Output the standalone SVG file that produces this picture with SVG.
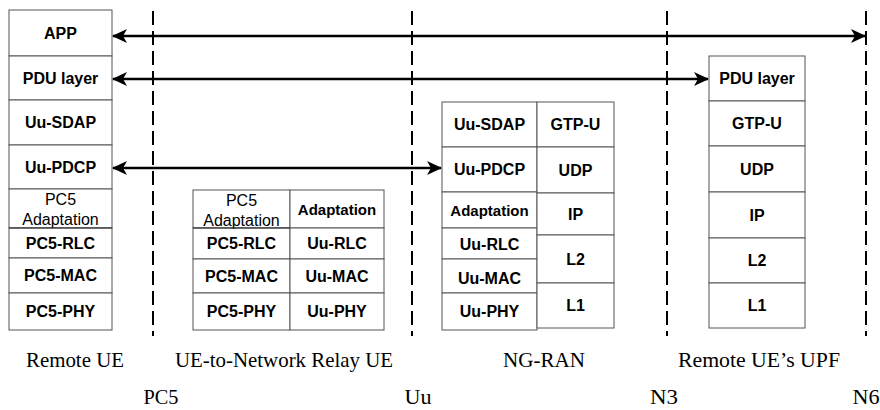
<svg xmlns="http://www.w3.org/2000/svg" width="880" height="410" viewBox="0 0 880 410">
<style>
.box{fill:#fff;stroke:#555;stroke-width:1}
.t{font-family:"Liberation Sans",Arial,sans-serif;font-size:16px;font-weight:bold;text-anchor:middle;fill:#000}
.r{font-family:"Liberation Sans",Arial,sans-serif;font-size:16px;text-anchor:middle;fill:#000}
.a{font-size:15px}
.lbl{font-family:"Liberation Serif","Times New Roman",serif;font-size:22px;text-anchor:middle;fill:#000}
.dash{stroke:#000;stroke-width:2;stroke-dasharray:14 6;fill:none}
.arr{stroke:#000;stroke-width:2.5;fill:none;marker-start:url(#ah);marker-end:url(#ah)}
</style>
<defs>
<marker id="ah" viewBox="0 0 15 14" refX="14" refY="7" markerWidth="15" markerHeight="14" markerUnits="userSpaceOnUse" orient="auto-start-reverse">
<path d="M0,0 L15,7 L0,14 L4,7 z" fill="#000"/>
</marker>
</defs>

<g id="dividers">
<line class="dash" x1="153" y1="11" x2="153" y2="336"/>
<line class="dash" x1="412" y1="11" x2="412" y2="336"/>
<line class="dash" x1="667" y1="11" x2="667" y2="336"/>
<line class="dash" x1="866" y1="11" x2="866" y2="336"/>
</g>

<g id="remote-ue">
<rect class="box" x="9" y="10" width="103" height="46"/>
<rect class="box" x="9" y="56" width="103" height="44"/>
<rect class="box" x="9" y="100" width="103" height="45"/>
<rect class="box" x="9" y="145" width="103" height="44"/>
<rect class="box" x="9" y="189" width="103" height="39"/>
<rect class="box" x="9" y="228" width="103" height="30"/>
<rect class="box" x="9" y="258" width="103" height="35"/>
<rect class="box" x="9" y="293" width="103" height="37"/>
<text class="t" x="60.5" y="39">APP</text>
<text class="t" x="60.5" y="84">PDU layer</text>
<text class="t" x="60.5" y="128">Uu-SDAP</text>
<text class="t" x="60.5" y="173">Uu-PDCP</text>
<text class="r" x="60.5" y="205">PC5</text>
<text class="r" x="60.5" y="225">Adaptation</text>
<line x1="9" y1="228" x2="112" y2="228" stroke="#333" stroke-width="1.2"/>
<text class="t" x="60.5" y="249">PC5-RLC</text>
<text class="t" x="60.5" y="281">PC5-MAC</text>
<text class="t" x="60.5" y="317">PC5-PHY</text>
</g>

<g id="relay-ue">
<rect class="box" x="193" y="190" width="97" height="38"/>
<rect class="box" x="290" y="190" width="94" height="38"/>
<rect class="box" x="193" y="228" width="97" height="31"/>
<rect class="box" x="290" y="228" width="94" height="31"/>
<rect class="box" x="193" y="259" width="97" height="34"/>
<rect class="box" x="290" y="259" width="94" height="34"/>
<rect class="box" x="193" y="293" width="97" height="37"/>
<rect class="box" x="290" y="293" width="94" height="37"/>
<text class="r" x="241.5" y="206">PC5</text>
<text class="r" x="241.5" y="226">Adaptation</text>
<line x1="193" y1="228" x2="290" y2="228" stroke="#333" stroke-width="1.2"/>
<text class="t a" x="337" y="215">Adaptation</text>
<text class="t" x="241.5" y="249">PC5-RLC</text>
<text class="t" x="337" y="249">Uu-RLC</text>
<text class="t" x="241.5" y="282">PC5-MAC</text>
<text class="t" x="337" y="282">Uu-MAC</text>
<text class="t" x="241.5" y="317">PC5-PHY</text>
<text class="t" x="337" y="317">Uu-PHY</text>
</g>

<g id="ng-ran">
<rect class="box" x="442" y="102" width="95" height="45"/>
<rect class="box" x="442" y="147" width="95" height="45"/>
<rect class="box" x="442" y="192" width="95" height="36"/>
<rect class="box" x="442" y="228" width="95" height="31"/>
<rect class="box" x="442" y="259" width="95" height="34"/>
<rect class="box" x="442" y="293" width="95" height="37"/>
<rect class="box" x="537" y="102" width="77" height="45"/>
<rect class="box" x="537" y="147" width="77" height="46"/>
<rect class="box" x="537" y="193" width="77" height="42"/>
<rect class="box" x="537" y="235" width="77" height="48"/>
<rect class="box" x="537" y="283" width="77" height="45"/>
<text class="t" x="489.5" y="130">Uu-SDAP</text>
<text class="t" x="489.5" y="175">Uu-PDCP</text>
<text class="t a" x="489.5" y="215.5">Adaptation</text>
<text class="t" x="489.5" y="250">Uu-RLC</text>
<text class="t" x="489.5" y="284">Uu-MAC</text>
<text class="t" x="489.5" y="317">Uu-PHY</text>
<text class="t" x="575.5" y="130">GTP-U</text>
<text class="t" x="575.5" y="175.5">UDP</text>
<text class="t" x="575.5" y="219.5">IP</text>
<text class="t" x="575.5" y="264.5">L2</text>
<text class="t" x="575.5" y="311">L1</text>
</g>

<g id="remote-ue-upf">
<rect class="box" x="709" y="56" width="96" height="45"/>
<rect class="box" x="709" y="101" width="96" height="45"/>
<rect class="box" x="709" y="146" width="96" height="46"/>
<rect class="box" x="709" y="192" width="96" height="46"/>
<rect class="box" x="709" y="238" width="96" height="45"/>
<rect class="box" x="709" y="283" width="96" height="45"/>
<text class="t" x="757" y="84">PDU layer</text>
<text class="t" x="757" y="129">GTP-U</text>
<text class="t" x="757" y="174.5">UDP</text>
<text class="t" x="757" y="220.5">IP</text>
<text class="t" x="757" y="266">L2</text>
<text class="t" x="757" y="311">L1</text>
</g>

<g id="connectors">
<line class="arr" x1="113" y1="36" x2="865" y2="36"/>
<line class="arr" x1="113" y1="79" x2="708" y2="79"/>
<line class="arr" x1="113" y1="168" x2="441" y2="168"/>
</g>

<g id="labels">
<text class="lbl" x="75" y="367" textLength="98" lengthAdjust="spacingAndGlyphs">Remote UE</text>
<text class="lbl" x="284" y="367" textLength="218" lengthAdjust="spacingAndGlyphs">UE-to-Network Relay UE</text>
<text class="lbl" x="544" y="367" textLength="82" lengthAdjust="spacingAndGlyphs">NG-RAN</text>
<text class="lbl" x="759" y="367" textLength="162" lengthAdjust="spacingAndGlyphs">Remote UE’s UPF</text>
<text class="lbl" x="161" y="404" textLength="35" lengthAdjust="spacingAndGlyphs">PC5</text>
<text class="lbl" x="418" y="404" textLength="27" lengthAdjust="spacingAndGlyphs">Uu</text>
<text class="lbl" x="664" y="404" textLength="28" lengthAdjust="spacingAndGlyphs">N3</text>
<text class="lbl" x="866" y="404" textLength="27" lengthAdjust="spacingAndGlyphs">N6</text>
</g>
</svg>
